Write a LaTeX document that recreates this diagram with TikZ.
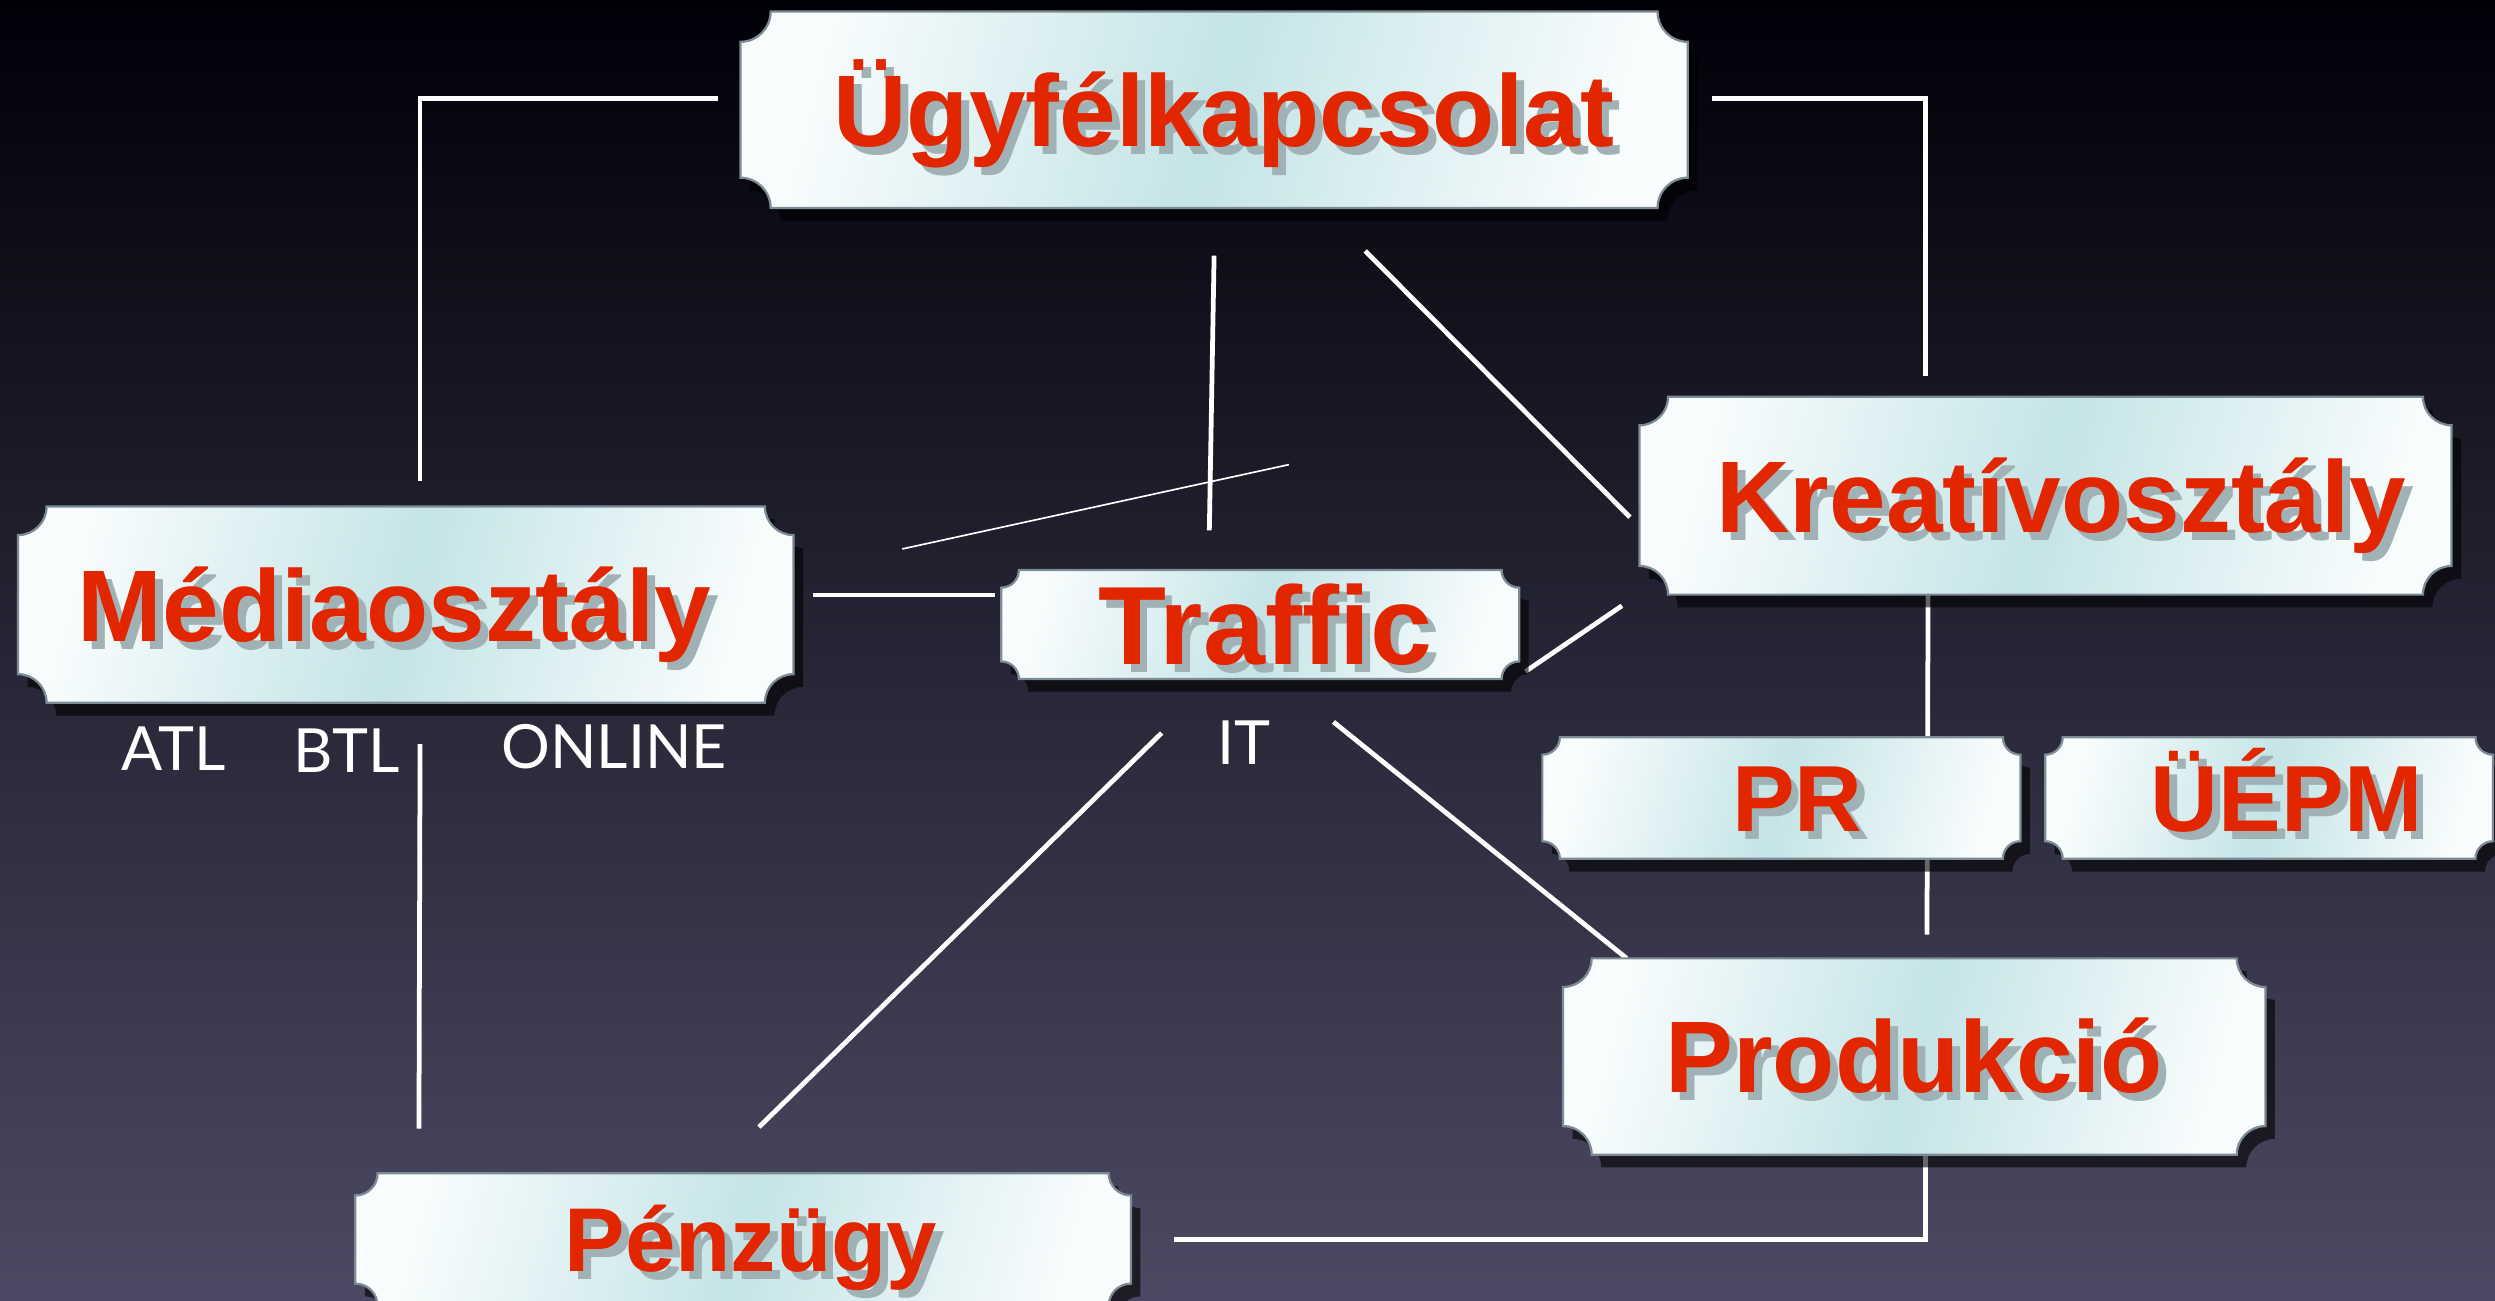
\documentclass[tikz,border=0pt]{standalone}
\usepackage{fontspec}
\newfontfamily\deptfont{Liberation Sans}[Ligatures=NoCommon]
\newfontfamily\tagfont{Lato}
\usetikzlibrary{calc, shadows}

\definecolor{deptred}{RGB}{226,38,0}
\definecolor{txtshadow}{RGB}{160,178,181}
\definecolor{boxwhite}{RGB}{248,252,252}
\definecolor{boxcyan}{RGB}{196,228,231}
\definecolor{boxedge}{RGB}{125,140,148}
\definecolor{bgtop}{RGB}{0,0,8}
\definecolor{bgmid}{RGB}{22,20,48}
\definecolor{bgbot}{RGB}{76,74,98}

\pgfdeclarelayer{backdrop}
\pgfdeclarelayer{links}
\pgfdeclarelayer{boxes}
\pgfsetlayers{backdrop,links,boxes,main}

% red heading with a grey shadow behind it, [#1] = sideways shift
\newcommand\shadowed[2][0]{\kern#1cm\kern#1cm%
  \rlap{\kern0.05cm\raisebox{-0.05cm}{\color{txtshadow}#2}}#2}

% ticket-shaped plate behind a node, #2 = corner notch radius
\newcommand\ticket[2]{%
  \path[ticket] ($(#1.south west)+(0,#2)$) -- ($(#1.north west)+(0,-#2)$)
    arc[start angle=-90, end angle=0, radius=#2]
    -- ($(#1.north east)+(-#2,0)$)
    arc[start angle=180, end angle=270, radius=#2]
    -- ($(#1.south east)+(0,#2)$)
    arc[start angle=90, end angle=180, radius=#2]
    -- ($(#1.south west)+(#2,0)$)
    arc[start angle=0, end angle=90, radius=#2] -- cycle;}

\begin{document}
\begin{tikzpicture}[
    dept/.style={inner sep=0pt, text=deptred,
        font=\deptfont\bfseries\fontsize{#1}{#1}\selectfont,
        text height={0.716*#1}, text depth=0pt},
    dept/.default=18.2pt,
    ticket/.style={draw=boxedge, line width=0.4pt,
        left color=boxwhite, right color=boxwhite, middle color=boxcyan,
        shading angle=75,
        drop shadow={shadow xshift=0.06cm, shadow yshift=-0.08cm, opacity=0.6, fill=black}},
    link/.style={draw=white, line width=0.85pt},
    hairline/.style={draw=white, line width=0.3pt},
    tag/.style={text=white, inner sep=0pt,
        font=\tagfont\fontsize{10.9pt}{10.9pt}\selectfont,
        text height=7.8pt, text depth=0pt}
]

\useasboundingbox (0,0) rectangle (15.68,8.17);
\begin{pgfonlayer}{backdrop}
\fill[top color=bgtop, middle color=bgmid, bottom color=bgbot] (0,0) rectangle (15.68,8.17);
\end{pgfonlayer}

\node[dept, minimum width=5.94cm, minimum height=1.22cm] (ugy) at (7.63,7.48) {\shadowed[0.06]{Ügyfélkapcsolat}};
\node[dept, minimum width=4.86cm, minimum height=1.22cm] (media) at (2.55,4.37) {\shadowed[-0.07]{Médiaosztály}};
\node[dept=19.9pt, minimum width=3.24cm, minimum height=0.67cm] (traffic) at (7.92,4.245) {\shadowed[0.03]{Traffic}};
\node[dept, minimum width=5.09cm, minimum height=1.23cm] (kreativ) at (12.855,5.055) {\shadowed[0.1]{Kreatívosztály}};
\node[dept=16.8pt, minimum width=2.99cm, minimum height=0.75cm] (pr) at (11.195,3.155) {\shadowed[0.1]{PR}};
\node[dept=16.8pt, minimum width=2.80cm, minimum height=0.75cm] (uepm) at (14.26,3.155) {\shadowed[0.11]{ÜÉPM}};
\node[dept, minimum width=4.40cm, minimum height=1.22cm] (prod) at (12.03,1.53) {\shadowed{Produkció}};
\node[dept=16.2pt, minimum width=4.86cm, minimum height=0.82cm] (penz) at (4.67,0.38) {\shadowed[0.05]{Pénzügy}};

\node[tag] (atl) at (1.09,3.465) {ATL};
\node[tag] (btl) at (2.18,3.45) {BTL};
\node[tag] (online) at (3.86,3.475) {ONLINE};
\node[tag] (it) at (7.82,3.50) {IT};

\coordinate (hairA) at (5.67,4.72);
\coordinate (hairB) at (8.10,5.25);

\begin{pgfonlayer}{boxes}
\ticket{ugy}{0.19}
\ticket{media}{0.18}
\ticket{traffic}{0.11}
\ticket{kreativ}{0.18}
\ticket{pr}{0.11}
\ticket{uepm}{0.11}
\ticket{prod}{0.18}
\ticket{penz}{0.14}
\end{pgfonlayer}

\begin{pgfonlayer}{links}
\draw[link] ($(ugy.west)+(-0.14,0.07)$) -| ($(media.north)+(0.09,0.16)$);
\draw[link] ($(ugy.east)+(0.15,0.07)$) -| ($(kreativ.north)+(-0.755,0.13)$);
\draw[link] ($(ugy.south)+(0,-0.30)$) -- ($(traffic.north)+(-0.32,0.25)$);
\draw[link] ($(ugy.south)+(0.95,-0.27)$) -- ($(kreativ.west)+(-0.06,-0.135)$);
\draw[hairline] (hairA) -- (hairB);
\draw[link] ($(media.east)+(0.12,0.06)$) -- ($(traffic.west)+(-0.04,0.185)$);
\draw[link] ($(traffic.east)+(0.04,-0.295)$) -- ($(kreativ.south west)+(-0.11,-0.07)$);
\draw[link] ($(traffic.south)+(-0.62,-0.34)$) -- ($(penz.north)+(0.10,0.29)$);
\draw[link] ($(traffic.south)+(0.46,-0.27)$) -- ($(prod.north west)+(0.40,0)$);
\draw[link] ($(media.south)+(0.09,-0.26)$) -- ($(penz.north west)+(0.40,0.28)$);
\draw[link] (kreativ.south -| pr.east) ++(-0.58,0) -- ($(prod.north)+(0.08,0.15)$);
\draw[link] ($(prod.south)+(0.07,0.03)$) |- ($(penz.east)+(0.27,0)$);
\end{pgfonlayer}

\end{tikzpicture}
\end{document}
